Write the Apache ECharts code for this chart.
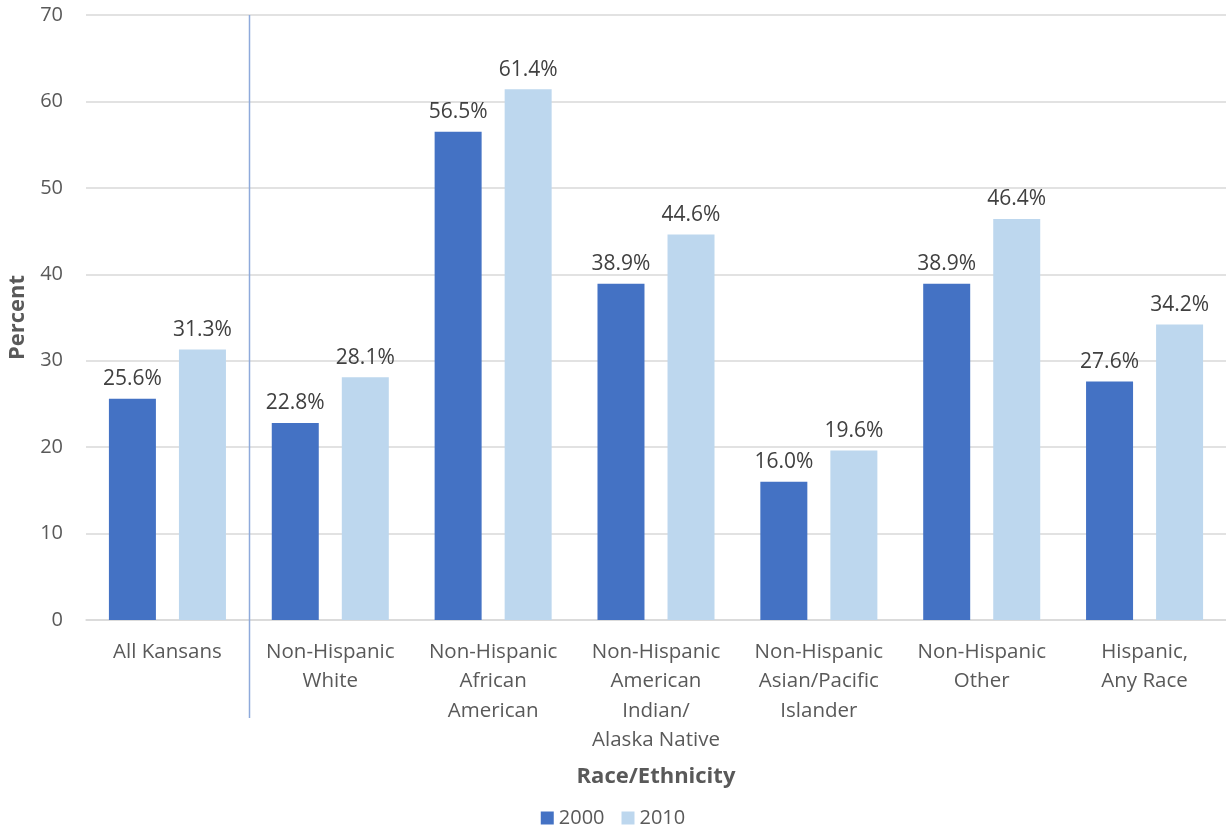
<!DOCTYPE html>
<html><head><meta charset="utf-8">
<script src="https://cdn.jsdelivr.net/npm/echarts@6/dist/echarts.min.js"></script>
<style>html,body{margin:0;padding:0;background:#fff}#c{width:1226px;height:827px}</style>
</head><body><div id="c"></div>
<script>
var categories = ['All Kansans','Non-Hispanic\nWhite','Non-Hispanic\nAfrican\nAmerican','Non-Hispanic\nAmerican\nIndian/\nAlaska Native','Non-Hispanic\nAsian/Pacific\nIslander','Non-Hispanic\nOther','Hispanic,\nAny Race'];
var values2000 = [25.6, 22.8, 56.5, 38.9, 16.0, 38.9, 27.6];
var values2010 = [31.3, 28.1, 61.4, 44.6, 19.6, 46.4, 34.2];
var seriesNames = ['2000','2010'];
var yTicks = {min:0, max:70, interval:10};

var font = '"Open Sans", "Noto Sans", sans-serif';
var chart = echarts.init(document.getElementById('c'), null, {renderer:'canvas'});
var lbl = {show:true, position:'top', distance:9, fontSize:21, color:'#404040', fontFamily:font,
  formatter:function(p){return p.value.toFixed(1)+'%';}};
chart.setOption({
  animation:false,
  textStyle:{fontFamily:font},
  grid:{left:86, right:0, top:15, bottom:207, containLabel:false, outerBoundsMode:'none'},
  legend:{top:803, left:'center', itemWidth:13, itemHeight:13, itemGap:17,
    textStyle:{fontSize:20, color:'#595959', fontFamily:font}, icon:'rect', data:seriesNames},
  xAxis:{type:'category', data:categories,
    axisLine:{lineStyle:{color:'#d9d9d9', width:1.5}}, axisTick:{show:false},
    axisLabel:{fontSize:20.5, color:'#595959', lineHeight:29.5, margin:17, interval:0, fontFamily:font},
    name:'Race/Ethnicity', nameLocation:'middle', nameGap:146,
    nameTextStyle:{fontSize:22, fontWeight:'bold', color:'#595959', fontFamily:font}},
  yAxis:{type:'value', min:yTicks.min, max:yTicks.max, interval:yTicks.interval,
    axisLine:{show:false}, axisTick:{show:false},
    splitLine:{lineStyle:{color:'#d9d9d9', width:1.5}},
    axisLabel:{fontSize:20, color:'#595959', margin:23, fontFamily:font},
    name:'Percent', nameLocation:'middle', nameGap:47, nameRotate:90,
    nameTextStyle:{fontSize:22, fontWeight:'bold', color:'#595959', fontFamily:font}},
  series:[
    {name:seriesNames[0], type:'bar', data:values2000, barWidth:47, barGap:'49%',
      itemStyle:{color:'#4472c4'}, label:lbl},
    {name:seriesNames[1], type:'bar', data:values2010, barWidth:47,
      itemStyle:{color:'#bdd7ee'}, label:lbl}
  ]
});
var x0 = chart.convertToPixel({xAxisIndex:0}, 0);
var x1 = chart.convertToPixel({xAxisIndex:0}, 1);
var xm = Math.round((x0+x1)/2)+0.5;
var yTop = chart.convertToPixel({yAxisIndex:0}, 70);
var yBot = chart.convertToPixel({yAxisIndex:0}, 0);
chart.setOption({graphic:[{type:'line', shape:{x1:xm, y1:yTop, x2:xm, y2:yBot+98},
  style:{stroke:'#8eaadb', lineWidth:1.5}, z:10}]});
</script></body></html>
